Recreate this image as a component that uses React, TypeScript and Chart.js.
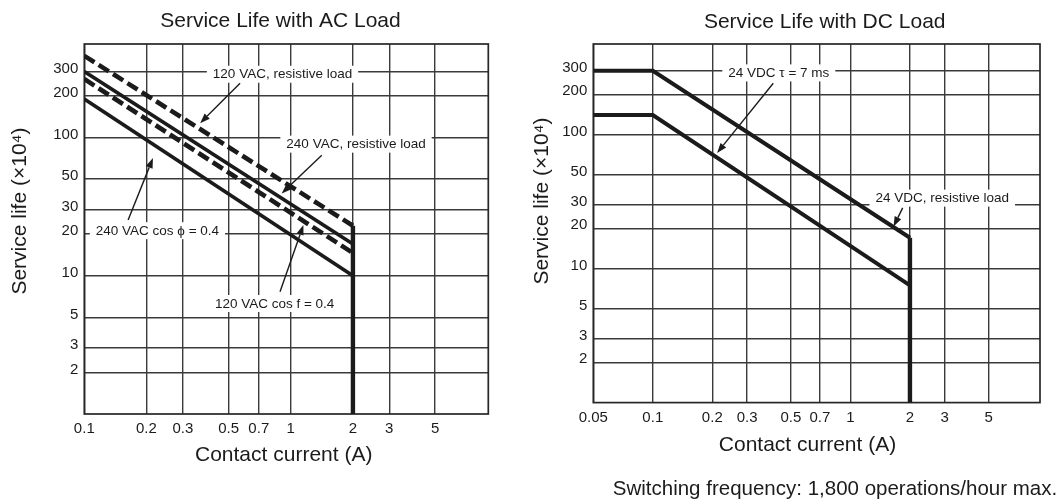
import React, { useEffect, useRef } from "react";
import { Chart, registerables } from "chart.js";

Chart.register(...registerables);

// ---------- AC load chart data ----------
const acCurrent = [0.1, 2];
const ac120Resistive = [390, 23];
const ac240Resistive = [300, 17];
const ac120CosPhi = [265, 14.6];
const ac240CosPhi = [190, 10];
const acLimitCurrent = [2, 2];
const acLimitLife = [23, 1];
const acXTicks = [0.1, 0.2, 0.3, 0.5, 0.7, 1, 2, 3, 5];

// ---------- DC load chart data ----------
const dcCurrent = [0.05, 0.1, 2];
const dc24Resistive = [300, 300, 17];
const dc24Tau7ms = [140, 140, 7.5];
const dcLimitCurrent = [2, 2];
const dcLimitLife = [17, 1];
const dcXTicks = [0.05, 0.1, 0.2, 0.3, 0.5, 0.7, 1, 2, 3, 5];

// shared y ticks (service life ×10^4)
const lifeTicks = [2, 3, 5, 10, 20, 30, 50, 100, 200, 300];

const FONT = "'Liberation Sans', Arial, Helvetica, sans-serif";
const INK = "#1b1b1b";
const GRID = "#3a3a3a";

type Note = { text: string; x: number; y: number; from: [number, number]; to: [number, number] };

const acNotes: Note[] = [
  { text: "120 VAC, resistive load", x: 0.912, y: 287, from: [0.568, 247], to: [0.364, 127] },
  { text: "240 VAC, resistive load", x: 2.07, y: 89.6, from: [1.413, 74.6], to: [0.904, 39.4] },
  { text: "240 VAC cos \u03d5 = 0.4", x: 0.226, y: 21.2, from: [0.163, 25.3], to: [0.215, 71] },
  { text: "120 VAC cos f = 0.4", x: 0.835, y: 6.3, from: [0.887, 7.66], to: [1.151, 23.3] },
];

const dcNotes: Note[] = [
  { text: "24 VDC \u03c4 = 7 ms", x: 0.434, y: 289, from: [0.407, 242], to: [0.2115, 73] },
  { text: "24 VDC, resistive load", x: 2.915, y: 33.6, from: [1.837, 28.4], to: [1.652, 20.6] },
];

const pts = (xs: number[], ys: number[]) => xs.map((x, i) => ({ x, y: ys[i] }));

function drawArrow(ctx: CanvasRenderingContext2D, x1: number, y1: number, x2: number, y2: number) {
  const ang = Math.atan2(y2 - y1, x2 - x1);
  const len = 10;
  const half = 3.6;
  const bx = x2 - Math.cos(ang) * len;
  const by = y2 - Math.sin(ang) * len;
  ctx.beginPath();
  ctx.moveTo(x1, y1);
  ctx.lineTo(bx, by);
  ctx.stroke();
  ctx.beginPath();
  ctx.moveTo(x2, y2);
  ctx.lineTo(bx + Math.sin(ang) * half, by - Math.cos(ang) * half);
  ctx.lineTo(bx - Math.sin(ang) * half, by + Math.cos(ang) * half);
  ctx.closePath();
  ctx.fill();
}

type Texts = {
  title: string;
  titleX: number;
  titleY: number;
  yTitleX: number;
  yTitleY: number;
  xTitleX: number;
  xTitleY: number;
  footer?: { text: string; x: number; y: number };
};

function makeDecor(notes: Note[], t: Texts) {
  return {
    id: "decor",
    beforeDatasetsDraw(chart: any) {
      const { ctx, chartArea: a, scales } = chart;
      ctx.save();
      ctx.strokeStyle = "#262626";
      ctx.lineWidth = 1.7;
      ctx.strokeRect(a.left, a.top, a.right - a.left, a.bottom - a.top);
      ctx.font = `13.5px ${FONT}`;
      ctx.textAlign = "center";
      ctx.textBaseline = "middle";
      for (const n of notes) {
        const cx = scales.x.getPixelForValue(n.x);
        const cy = scales.y.getPixelForValue(n.y);
        const w = ctx.measureText(n.text).width;
        ctx.fillStyle = "#ffffff";
        ctx.fillRect(cx - w / 2 - 6, cy - 8.5, w + 12, 17);
        ctx.fillStyle = INK;
        ctx.fillText(n.text, cx, cy + 0.5);
      }
      ctx.restore();
    },
    afterDatasetsDraw(chart: any) {
      const { ctx, scales } = chart;
      ctx.save();
      ctx.strokeStyle = INK;
      ctx.fillStyle = INK;
      ctx.lineWidth = 1.4;
      for (const n of notes) {
        drawArrow(
          ctx,
          scales.x.getPixelForValue(n.from[0]),
          scales.y.getPixelForValue(n.from[1]),
          scales.x.getPixelForValue(n.to[0]),
          scales.y.getPixelForValue(n.to[1])
        );
      }
      ctx.restore();
    },
    afterDraw(chart: any) {
      const { ctx } = chart;
      ctx.save();
      ctx.fillStyle = INK;
      ctx.textAlign = "center";
      ctx.textBaseline = "middle";
      ctx.font = `21px ${FONT}`;
      ctx.fillText(t.title, t.titleX, t.titleY);
      ctx.fillText("Contact current (A)", t.xTitleX, t.xTitleY);
      if (t.footer) {
        ctx.font = `20.5px ${FONT}`;
        ctx.fillText(t.footer.text, t.footer.x, t.footer.y);
      }
      ctx.font = `21px ${FONT}`;
      ctx.translate(t.yTitleX, t.yTitleY);
      ctx.rotate(-Math.PI / 2);
      ctx.fillText("Service life (\u00d710\u2074)", 0, 0);
      ctx.restore();
    },
  };
}

function baseScales(xMin: number, xMax: number, xTicks: number[], yWidth: number, xHeight: number) {
  const tickFont = { family: FONT, size: 15 };
  return {
    x: {
      type: "logarithmic",
      min: xMin,
      max: xMax,
      afterBuildTicks: (s: any) => {
        s.ticks = xTicks.map((v) => ({ value: v }));
      },
      afterFit: (s: any) => {
        s.height = xHeight;
      },
      ticks: {
        autoSkip: false,
        maxRotation: 0,
        minRotation: 0,
        padding: 6,
        color: INK,
        font: tickFont,
        callback: (v: any) => String(v),
      },
      grid: { color: GRID, lineWidth: 1.4, drawTicks: false },
      border: { display: false },
    },
    y: {
      type: "logarithmic",
      min: 1,
      max: 475,
      afterBuildTicks: (s: any) => {
        s.ticks = lifeTicks.map((v) => ({ value: v }));
      },
      afterFit: (s: any) => {
        s.width = yWidth;
      },
      ticks: {
        autoSkip: false,
        padding: 6,
        labelOffset: -3,
        color: INK,
        font: tickFont,
        callback: (v: any) => String(v),
      },
      grid: { color: GRID, lineWidth: 1.4, drawTicks: false },
      border: { display: false },
    },
  };
}

const solid = (label: string, data: any[], w = 3.6) => ({
  label,
  data,
  borderColor: INK,
  backgroundColor: INK,
  borderWidth: w,
  pointRadius: 0,
  fill: false,
  tension: 0,
});
const dashed = (label: string, data: any[]) => ({
  ...solid(label, data, 4.6),
  borderDash: [12, 5],
});

function acConfig(): any {
  return {
    type: "line",
    data: {
      datasets: [
        dashed("120 VAC, resistive load", pts(acCurrent, ac120Resistive)),
        solid("240 VAC, resistive load", pts(acCurrent, ac240Resistive)),
        dashed("120 VAC cos f = 0.4", pts(acCurrent, ac120CosPhi)),
        solid("240 VAC cos \u03d5 = 0.4", pts(acCurrent, ac240CosPhi)),
        solid("Max. current", pts(acLimitCurrent, acLimitLife), 4.4),
      ],
    },
    options: {
      responsive: false,
      animation: false,
      devicePixelRatio: 1,
      layout: { padding: { top: 44, right: 41.7, left: 0, bottom: 0 } },
      plugins: { legend: { display: false }, tooltip: { enabled: false }, title: { display: false } },
      elements: { line: { borderCapStyle: "butt", borderJoinStyle: "miter" } },
      scales: baseScales(0.1, 9.05, acXTicks, 84.3, 86),
    },
    plugins: [
      makeDecor(acNotes, {
        title: "Service Life with AC Load",
        titleX: 280.5,
        titleY: 21,
        yTitleX: 20,
        yTitleY: 211,
        xTitleX: 283.7,
        xTitleY: 455,
      }),
    ],
  };
}

function dcConfig(): any {
  return {
    type: "line",
    data: {
      datasets: [
        solid("24 VDC, resistive load", pts(dcCurrent, dc24Resistive), 4),
        solid("24 VDC \u03c4 = 7 ms", pts(dcCurrent, dc24Tau7ms), 4),
        solid("Max. current", pts(dcLimitCurrent, dcLimitLife), 4.4),
      ],
    },
    options: {
      responsive: false,
      animation: false,
      devicePixelRatio: 1,
      layout: { padding: { top: 44, right: 24, left: 0, bottom: 0 } },
      plugins: { legend: { display: false }, tooltip: { enabled: false }, title: { display: false } },
      elements: { line: { borderCapStyle: "butt", borderJoinStyle: "miter" } },
      scales: baseScales(0.05, 9.1, dcXTicks, 63.3, 97.4),
    },
    plugins: [
      makeDecor(dcNotes, {
        title: "Service Life with DC Load",
        titleX: 294.7,
        titleY: 22,
        yTitleX: 12,
        yTitleY: 201,
        xTitleX: 277.5,
        xTitleY: 445,
        footer: { text: "Switching frequency: 1,800 operations/hour max.", x: 305, y: 489 },
      }),
    ],
  };
}

function ChartCanvas({ make, left, width }: { make: () => any; left: number; width: number }) {
  const ref = useRef<HTMLCanvasElement>(null);
  useEffect(() => {
    const chart = new Chart(ref.current as HTMLCanvasElement, make());
    return () => chart.destroy();
  }, []);
  return (
    <canvas
      ref={ref}
      width={width}
      height={500}
      style={{ position: "absolute", left, top: 0, width, height: 500, display: "block" }}
    />
  );
}

export default function App() {
  return (
    <div style={{ position: "absolute", left: 0, top: 0, width: 1064, height: 500, background: "#fff", overflow: "hidden" }}>
      <ChartCanvas make={acConfig} left={0} width={530} />
      <ChartCanvas make={dcConfig} left={530} width={534} />
    </div>
  );
}
